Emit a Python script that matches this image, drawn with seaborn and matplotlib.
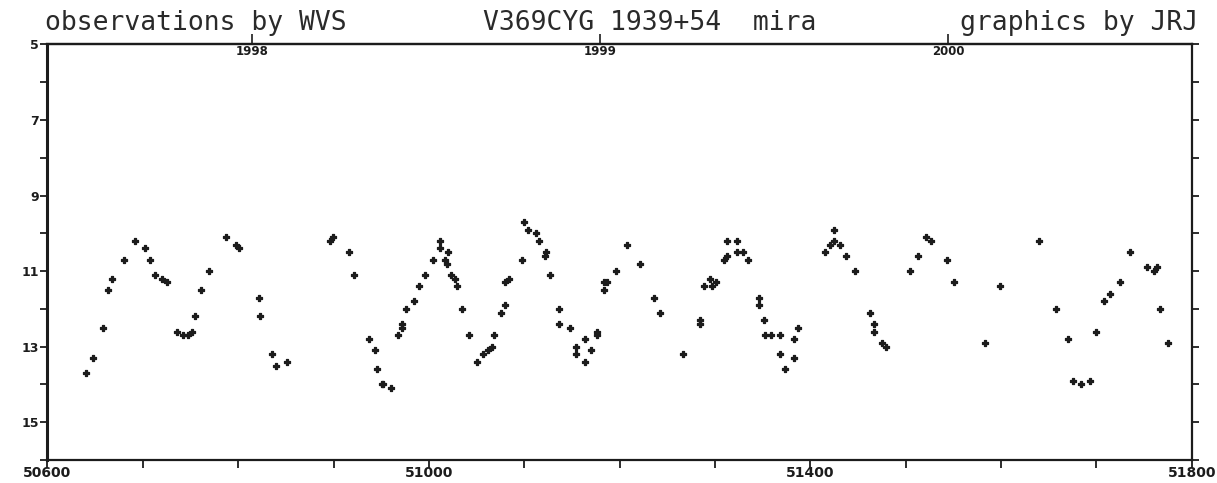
import matplotlib
matplotlib.use("Agg")
import matplotlib.pyplot as plt
import numpy as np
import pandas as pd
import seaborn as sns

# JD - 2400000 and visual magnitude (one list per season)
jd_1997 = [50640, 50648, 50658, 50664, 50668, 50680, 50692, 50702, 50708, 50713,
           50720, 50725, 50736, 50742, 50747, 50752, 50755, 50761, 50769, 50787,
           50798, 50801, 50822, 50823, 50836, 50840, 50851, 50896, 50899]
mag_1997 = [13.7, 13.3, 12.5, 11.5, 11.2, 10.7, 10.2, 10.4, 10.7, 11.1,
            11.2, 11.3, 12.6, 12.7, 12.7, 12.6, 12.2, 11.5, 11.0, 10.1,
            10.3, 10.4, 11.7, 12.2, 13.2, 13.5, 13.4, 10.2, 10.1]

jd_1998 = [50916, 50922, 50937, 50943, 50946, 50951, 50952, 50960,
           50968, 50972, 50972, 50976, 50984, 50990, 50996,
           51004, 51012, 51012, 51020, 51017, 51019, 51023, 51027, 51030, 51035,
           51042, 51050, 51057, 51062, 51066, 51068, 51076, 51080, 51080, 51084,
           51098, 51100, 51104, 51112, 51116, 51123, 51122, 51127, 51136, 51136,
           51148, 51154, 51154, 51164, 51164, 51170, 51176, 51176, 51184, 51187,
           51184, 51196]
mag_1998 = [10.5, 11.1, 12.8, 13.1, 13.6, 14.0, 14.0, 14.1,
            12.7, 12.5, 12.4, 12.0, 11.8, 11.4, 11.1,
            10.7, 10.2, 10.4, 10.5, 10.7, 10.8, 11.1, 11.2, 11.4, 12.0,
            12.7, 13.4, 13.2, 13.1, 13.0, 12.7, 12.1, 11.9, 11.3, 11.2,
            10.7, 9.7, 9.9, 10.0, 10.2, 10.5, 10.6, 11.1, 12.0, 12.4,
            12.5, 13.0, 13.2, 12.8, 13.4, 13.1, 12.6, 12.7, 11.3, 11.3,
            11.5, 11.0]

jd_1999 = [51208, 51221, 51236, 51242, 51266, 51284, 51284, 51289, 51295, 51297,
           51301, 51309, 51313, 51313, 51323, 51323, 51329, 51335, 51346, 51346,
           51351, 51353, 51359, 51368, 51368, 51374, 51383, 51383, 51387, 51415,
           51421, 51425, 51425, 51431, 51437, 51447, 51463, 51467, 51467, 51475,
           51479]
mag_1999 = [10.3, 10.8, 11.7, 12.1, 13.2, 12.3, 12.4, 11.4, 11.2, 11.4,
            11.3, 10.7, 10.6, 10.2, 10.2, 10.5, 10.5, 10.7, 11.7, 11.9,
            12.3, 12.7, 12.7, 12.7, 13.2, 13.6, 13.3, 12.8, 12.5, 10.5,
            10.3, 10.2, 9.9, 10.3, 10.6, 11.0, 12.1, 12.4, 12.6, 12.9,
            13.0]

jd_2000 = [51505, 51513, 51521, 51527, 51543, 51551, 51583, 51599, 51640, 51658,
           51670, 51676, 51684, 51693, 51700, 51708, 51714, 51725, 51735, 51753,
           51760, 51764, 51767, 51775]
mag_2000 = [11.0, 10.6, 10.1, 10.2, 10.7, 11.3, 12.9, 11.4, 10.2, 12.0,
            12.8, 13.9, 14.0, 13.9, 12.6, 11.8, 11.6, 11.3, 10.5, 10.9,
            11.0, 10.9, 12.0, 12.9]

# axis ticks
jd_ticks = list(range(50600, 51801, 100))
jd_labels = ["50600", "", "", "", "51000", "", "", "", "51400", "", "", "", "51800"]
mag_ticks = list(range(5, 17))
mag_labels = ["5", "", "7", "", "9", "", "11", "", "13", "", "15", ""]
year_jd = [50814.5, 51179.5, 51544.5]
year_labels = ["1998", "1999", "2000"]

df = pd.DataFrame({
    "jd": jd_1997 + jd_1998 + jd_1999 + jd_2000,
    "mag": mag_1997 + mag_1998 + mag_1999 + mag_2000,
})

sns.set_style("ticks")
ink = "#1c1c1c"

fig = plt.figure(figsize=(12.17, 4.83), dpi=100)
ax = fig.add_axes([0.039, 0.0476, 0.9402, 0.8605])

# small solid crosses, like the plotter's symbols
sns.scatterplot(data=df, x="jd", y="mag", ax=ax, marker="P", s=17,
                color=ink, edgecolor=ink, linewidth=0.9, legend=False)

ax.set_xlim(50600, 51800)
ax.set_ylim(16, 5)
ax.set_xlabel("")
ax.set_ylabel("")

ax.set_xticks(jd_ticks)
ax.set_xticklabels(jd_labels, fontsize=10, fontweight="bold", color=ink)
ax.set_yticks(mag_ticks)
ax.set_yticklabels(mag_labels, fontsize=9, fontweight="bold", color=ink)
ax.tick_params(axis="x", direction="out", length=6, width=1.3, pad=-1.5, colors=ink)
ax.tick_params(axis="y", direction="out", length=5, width=1.3, pad=1,
               right=True, labelright=False, colors=ink)

for sp in ax.spines.values():
    sp.set_visible(True)
    sp.set_linewidth(1.6)
    sp.set_color(ink)
ax.spines["left"].set_linewidth(2.2)

# calendar years along the top edge
top = ax.secondary_xaxis("top")
top.set_xticks(year_jd)
top.set_xticklabels(year_labels, fontsize=8.5, fontweight="bold", color=ink)
top.tick_params(direction="out", length=7, width=1.2, pad=-17, colors=ink)
top.spines["top"].set_linewidth(1.6)

head = dict(family="DejaVu Sans Mono", fontsize=19, color="#2a2a2a", va="baseline")
fig.text(45 / 1217, 1 - 30 / 483, "observations by WVS", ha="left", **head)
fig.text(483 / 1217, 1 - 30 / 483, "V369CYG 1939+54  mira", ha="left", **head)
fig.text(960 / 1217, 1 - 30 / 483, "graphics by JRJ", ha="left", **head)

fig.savefig("out.png", dpi=100)
